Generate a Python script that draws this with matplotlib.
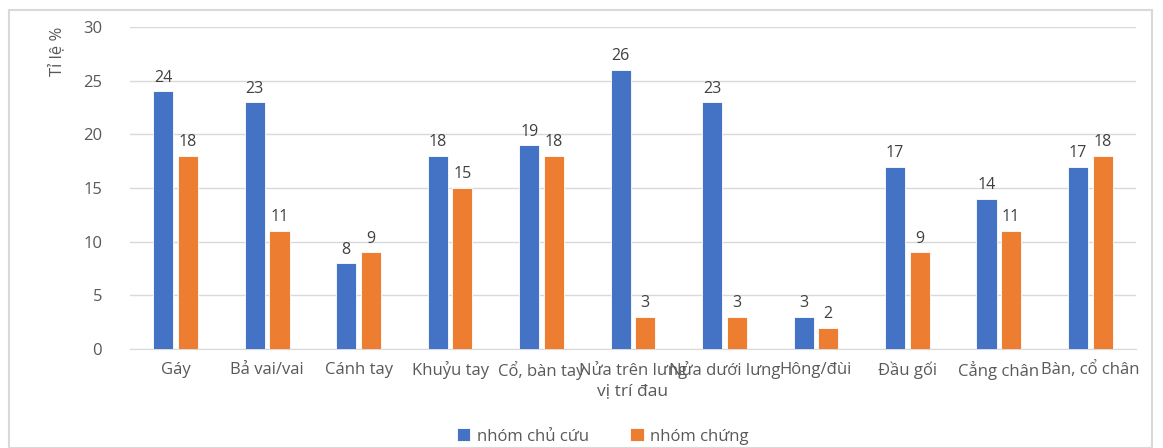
import numpy as np
import matplotlib
matplotlib.use("Agg")
import matplotlib.pyplot as plt
from matplotlib.patches import Rectangle

plt.rcParams['font.family'] = ['Open Sans', 'DejaVu Sans']

vi_tri = ['Gáy', 'Bả vai/vai', 'Cánh tay', 'Khuỷu tay', 'Cổ, bàn tay',
          'Nửa trên lưng', 'Nửa dưới lưng', 'Hông/đùi', 'Đầu gối',
          'Cẳng chân', 'Bàn, cổ chân']
chu_cuu = [24, 23, 8, 18, 19, 26, 23, 3, 17, 14, 17]
chung = [18, 11, 9, 15, 18, 3, 3, 2, 9, 11, 18]

xam = '#595959'
fig = plt.figure(figsize=(11.63, 4.48), dpi=100)
ax = fig.add_axes([130/1163, 1-349/448, (1136-130)/1163, (349-27)/448])

x = np.arange(len(vi_tri))
w = 0.22
b1 = ax.bar(x - 0.135, chu_cuu, w, color='#4472C4', edgecolor='white', linewidth=0.6, label='nhóm chủ cứu', zorder=3)
b2 = ax.bar(x + 0.135, chung, w, color='#ED7D31', edgecolor='white', linewidth=0.6, label='nhóm chứng', zorder=3)
ax.bar_label(b1, padding=4, color='#404040', fontsize=11.5)
ax.bar_label(b2, padding=4, color='#404040', fontsize=11.5)

ax.set_xlim(-0.5, len(vi_tri) - 0.5)
ax.set_ylim(0, 30)
ax.set_yticks(range(0, 31, 5))
ax.set_xticks(x)
ax.set_xticklabels(vi_tri)
ax.yaxis.grid(True, color='#d9d9d9', linewidth=1, zorder=0)
for s in ['top', 'right', 'left']:
    ax.spines[s].set_visible(False)
ax.spines['bottom'].set_color('#d9d9d9')
ax.tick_params(axis='both', length=0, colors=xam, labelsize=12)
ax.tick_params(axis='x', pad=9)
ax.tick_params(axis='y', pad=20)

ax.set_xlabel('vị trí đau', color=xam, fontsize=12.5, labelpad=2)
ax.set_ylabel('Tỉ lệ %', color=xam, fontsize=12, loc='top', labelpad=12)

ax.legend(loc='upper center', bbox_to_anchor=(0.47, -0.2), ncol=2, frameon=False,
          fontsize=12, labelcolor=xam, handlelength=0.8, handleheight=0.8,
          columnspacing=2.5, handletextpad=0.4)

fig.patches.append(Rectangle((9/1163, 0), (1152-9)/1163, 1-10/448, transform=fig.transFigure,
                             fill=False, edgecolor='#d9d9d9', linewidth=1.5))

fig.savefig('out.png', dpi=100)
